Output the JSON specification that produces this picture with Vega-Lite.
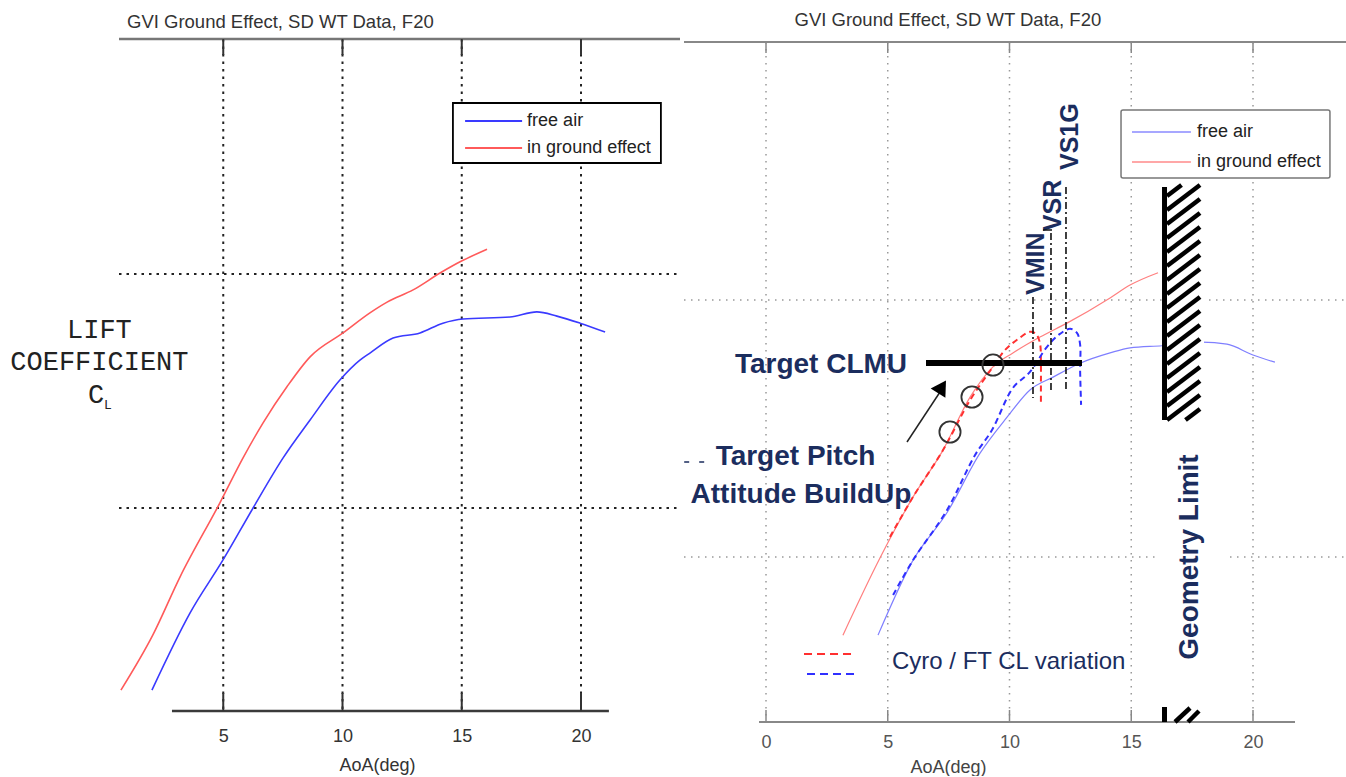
{
  "$schema": "https://vega.github.io/schema/vega-lite/v6.json",
  "padding": 0,
  "background": "white",
  "spacing": 4,
  "bounds": "flush",
  "resolve": {"scale": {"color": "independent"}},
  "config": {"view": {"stroke": null}, "font": "Liberation Sans"},
  "datasets": {
    "left_curves": [
      {"series": "in ground effect", "aoa": 0.71, "cl": 0.611},
      {"series": "in ground effect", "aoa": 2.05, "cl": 0.729},
      {"series": "in ground effect", "aoa": 3.19, "cl": 0.853},
      {"series": "in ground effect", "aoa": 4.86, "cl": 1.011},
      {"series": "in ground effect", "aoa": 5.83, "cl": 1.107},
      {"series": "in ground effect", "aoa": 6.67, "cl": 1.182},
      {"series": "in ground effect", "aoa": 7.67, "cl": 1.259},
      {"series": "in ground effect", "aoa": 8.64, "cl": 1.323},
      {"series": "in ground effect", "aoa": 10.02, "cl": 1.374},
      {"series": "in ground effect", "aoa": 11.15, "cl": 1.417},
      {"series": "in ground effect", "aoa": 11.87, "cl": 1.44},
      {"series": "in ground effect", "aoa": 12.96, "cl": 1.466},
      {"series": "in ground effect", "aoa": 14.09, "cl": 1.502},
      {"series": "in ground effect", "aoa": 14.93, "cl": 1.526},
      {"series": "in ground effect", "aoa": 16.06, "cl": 1.553},
      {"series": "free air", "aoa": 2.01, "cl": 0.611},
      {"series": "free air", "aoa": 3.61, "cl": 0.776},
      {"series": "free air", "aoa": 4.99, "cl": 0.889},
      {"series": "free air", "aoa": 6.25, "cl": 1.0},
      {"series": "free air", "aoa": 7.51, "cl": 1.107},
      {"series": "free air", "aoa": 8.64, "cl": 1.188},
      {"series": "free air", "aoa": 9.9, "cl": 1.274},
      {"series": "free air", "aoa": 10.73, "cl": 1.316},
      {"series": "free air", "aoa": 11.15, "cl": 1.331},
      {"series": "free air", "aoa": 12.12, "cl": 1.363},
      {"series": "free air", "aoa": 13.25, "cl": 1.374},
      {"series": "free air", "aoa": 14.21, "cl": 1.395},
      {"series": "free air", "aoa": 15.05, "cl": 1.404},
      {"series": "free air", "aoa": 17.02, "cl": 1.408},
      {"series": "free air", "aoa": 18.15, "cl": 1.419},
      {"series": "free air", "aoa": 18.99, "cl": 1.41},
      {"series": "free air", "aoa": 19.96, "cl": 1.395},
      {"series": "free air", "aoa": 21.01, "cl": 1.376}
    ],
    "right_curves": [
      {"series": "in ground effect", "aoa": 3.16, "cl": 0.848},
      {"series": "in ground effect", "aoa": 4.68, "cl": 0.998},
      {"series": "in ground effect", "aoa": 6.04, "cl": 1.117},
      {"series": "in ground effect", "aoa": 7.27, "cl": 1.208},
      {"series": "in ground effect", "aoa": 8.38, "cl": 1.311},
      {"series": "in ground effect", "aoa": 9.32, "cl": 1.37},
      {"series": "in ground effect", "aoa": 10.14, "cl": 1.397},
      {"series": "in ground effect", "aoa": 11.25, "cl": 1.428},
      {"series": "in ground effect", "aoa": 12.36, "cl": 1.455},
      {"series": "in ground effect", "aoa": 14.13, "cl": 1.504},
      {"series": "in ground effect", "aoa": 14.95, "cl": 1.529},
      {"series": "in ground effect", "aoa": 16.1, "cl": 1.553},
      {"series": "free air", "aoa": 4.6, "cl": 0.848},
      {"series": "free air", "aoa": 6.04, "cl": 0.994},
      {"series": "free air", "aoa": 7.43, "cl": 1.086},
      {"series": "free air", "aoa": 8.79, "cl": 1.202},
      {"series": "free air", "aoa": 9.9, "cl": 1.272},
      {"series": "free air", "aoa": 10.84, "cl": 1.325},
      {"series": "free air", "aoa": 11.79, "cl": 1.35},
      {"series": "free air", "aoa": 12.9, "cl": 1.377},
      {"series": "free air", "aoa": 14.13, "cl": 1.397},
      {"series": "free air", "aoa": 14.95, "cl": 1.407},
      {"series": "free air", "aoa": 16.26, "cl": 1.411},
      {"series": "free air", "aoa": 17.91, "cl": 1.418},
      {"series": "free air", "aoa": 18.93, "cl": 1.414},
      {"series": "free air", "aoa": 20.0, "cl": 1.393},
      {"series": "free air", "aoa": 20.9, "cl": 1.379}
    ],
    "right_variation": [
      {"series": "in ground effect", "i": 1, "aoa": 5.09, "cl": 1.039},
      {"series": "in ground effect", "i": 2, "aoa": 6.04, "cl": 1.117},
      {"series": "in ground effect", "i": 3, "aoa": 7.27, "cl": 1.208},
      {"series": "in ground effect", "i": 4, "aoa": 8.38, "cl": 1.305},
      {"series": "in ground effect", "i": 5, "aoa": 9.32, "cl": 1.37},
      {"series": "in ground effect", "i": 6, "aoa": 9.82, "cl": 1.403},
      {"series": "in ground effect", "i": 7, "aoa": 10.35, "cl": 1.424},
      {"series": "in ground effect", "i": 8, "aoa": 10.84, "cl": 1.438},
      {"series": "in ground effect", "i": 9, "aoa": 11.09, "cl": 1.434},
      {"series": "in ground effect", "i": 10, "aoa": 11.25, "cl": 1.416},
      {"series": "in ground effect", "i": 11, "aoa": 11.29, "cl": 1.374},
      {"series": "in ground effect", "i": 12, "aoa": 11.29, "cl": 1.335},
      {"series": "in ground effect", "i": 13, "aoa": 11.29, "cl": 1.296},
      {"series": "free air", "i": 1, "aoa": 5.22, "cl": 0.926},
      {"series": "free air", "i": 2, "aoa": 6.04, "cl": 0.994},
      {"series": "free air", "i": 3, "aoa": 7.43, "cl": 1.091},
      {"series": "free air", "i": 4, "aoa": 8.58, "cl": 1.198},
      {"series": "free air", "i": 5, "aoa": 9.28, "cl": 1.247},
      {"series": "free air", "i": 6, "aoa": 10.14, "cl": 1.329},
      {"series": "free air", "i": 7, "aoa": 10.84, "cl": 1.36},
      {"series": "free air", "i": 8, "aoa": 11.54, "cl": 1.409},
      {"series": "free air", "i": 9, "aoa": 12.07, "cl": 1.434},
      {"series": "free air", "i": 10, "aoa": 12.49, "cl": 1.444},
      {"series": "free air", "i": 11, "aoa": 12.77, "cl": 1.436},
      {"series": "free air", "i": 12, "aoa": 12.9, "cl": 1.413},
      {"series": "free air", "i": 13, "aoa": 12.9, "cl": 1.364},
      {"series": "free air", "i": 14, "aoa": 12.94, "cl": 1.296}
    ],
    "hatch": [
      {"aoa": 17.228, "cl": 1.2665, "aoa2": 17.823, "cl2": 1.2879},
      {"aoa": 16.468, "cl": 1.2665, "aoa2": 17.823, "cl2": 1.3151},
      {"aoa": 16.468, "cl": 1.2938, "aoa2": 17.823, "cl2": 1.3424},
      {"aoa": 16.468, "cl": 1.321, "aoa2": 17.823, "cl2": 1.3696},
      {"aoa": 16.468, "cl": 1.3482, "aoa2": 17.823, "cl2": 1.3968},
      {"aoa": 16.468, "cl": 1.3755, "aoa2": 17.823, "cl2": 1.4241},
      {"aoa": 16.468, "cl": 1.4027, "aoa2": 17.823, "cl2": 1.4513},
      {"aoa": 16.468, "cl": 1.43, "aoa2": 17.823, "cl2": 1.4786},
      {"aoa": 16.468, "cl": 1.4572, "aoa2": 17.823, "cl2": 1.5058},
      {"aoa": 16.468, "cl": 1.4844, "aoa2": 17.823, "cl2": 1.533},
      {"aoa": 16.468, "cl": 1.5117, "aoa2": 17.823, "cl2": 1.5603},
      {"aoa": 16.468, "cl": 1.5389, "aoa2": 17.823, "cl2": 1.5875},
      {"aoa": 16.468, "cl": 1.5661, "aoa2": 17.823, "cl2": 1.6147},
      {"aoa": 16.468, "cl": 1.5934, "aoa2": 17.823, "cl2": 1.642},
      {"aoa": 16.468, "cl": 1.6206, "aoa2": 17.823, "cl2": 1.6692},
      {"aoa": 16.468, "cl": 1.6479, "aoa2": 17.823, "cl2": 1.6965},
      {"aoa": 16.468, "cl": 1.6751, "aoa2": 17.823, "cl2": 1.7237},
      {"aoa": 16.468, "cl": 1.7023, "aoa2": 17.064, "cl2": 1.7237},
      {"aoa": 16.797, "cl": 0.679, "aoa2": 17.413, "cl2": 0.7062},
      {"aoa": 17.331, "cl": 0.679, "aoa2": 17.782, "cl2": 0.7004}
    ],
    "targets": [
      {"aoa": 9.322, "cl": 1.3735},
      {"aoa": 8.46, "cl": 1.3113},
      {"aoa": 7.556, "cl": 1.2432}
    ],
    "vspeeds": [
      {"speed": "VMIN", "aoa": 10.965, "cl": 1.5058, "cl2": 1.3093},
      {"speed": "VSR", "aoa": 11.704, "cl": 1.6304, "cl2": 1.321},
      {"speed": "VS1G", "aoa": 12.32, "cl": 1.7198, "cl2": 1.321}
    ],
    "vspeed_labels": [
      {"speed": "VMIN", "aoa": 11.088, "cl": 1.5097},
      {"speed": "VSR", "aoa": 11.786, "cl": 1.634},
      {"speed": "VS1G", "aoa": 12.485, "cl": 1.7529}
    ]
  },
  "hconcat": [
    {
      "width": 680,
      "height": 711,
      "encoding": {
        "x": {"field": "aoa", "type": "quantitative", "scale": {"domain": [-4.3606, 24.1509], "nice": false, "zero": false},
          "axis": {"values": [5, 10, 15, 20], "domain": false, "ticks": false, "grid": false, "labelFontSize": 18, "labelColor": "#333", "labelPadding": 16, "labelFlush": false, "title": "AoA(deg)", "titleFontSize": 18, "titleFontWeight": "normal", "titleColor": "#333", "titleX": 377, "titleY": 54, "titleBaseline": "middle", "titleAlign": "center"}},
        "y": {"field": "cl", "type": "quantitative", "scale": {"domain": [0.56624, 2.08547], "nice": false, "zero": false}, "axis": null}
      },
      "layer": [
        {"data": {"values": [{"aoa": 5, "cl": 2.0021, "cl2": 0.5662}, {"aoa": 10, "cl": 2.0021, "cl2": 0.5662}, {"aoa": 15, "cl": 2.0021, "cl2": 0.5662}, {"aoa": 20, "cl": 2.0021, "cl2": 0.5662}]},
          "mark": {"type": "rule", "color": "#222", "strokeWidth": 2, "strokeDash": [2.5, 5]},
          "encoding": {"y2": {"field": "cl2"}}},
        {"data": {"values": [{"aoa": 0.629, "aoa2": 24.1509, "cl": 1.0}, {"aoa": 0.629, "aoa2": 24.1509, "cl": 1.5}]},
          "mark": {"type": "rule", "color": "#222", "strokeWidth": 2, "strokeDash": [2.5, 5]},
          "encoding": {"x2": {"field": "aoa2"}}},
        {"data": {"values": [{"aoa": 0.629, "aoa2": 24.1509, "cl": 2.0021}]},
          "mark": {"type": "rule", "color": "#777", "strokeWidth": 2.5},
          "encoding": {"x2": {"field": "aoa2"}}},
        {"data": {"values": [{"aoa": 2.85, "aoa2": 21.17, "cl": 0.5662}]},
          "mark": {"type": "rule", "color": "#3a3a3a", "strokeWidth": 2.5},
          "encoding": {"x2": {"field": "aoa2"}}},
        {"data": {"values": [
            {"aoa": 5, "cl": 2.0021, "cl2": 1.9679}, {"aoa": 10, "cl": 2.0021, "cl2": 1.9679}, {"aoa": 15, "cl": 2.0021, "cl2": 1.9679}, {"aoa": 20, "cl": 2.0021, "cl2": 1.9679},
            {"aoa": 5, "cl": 0.5662, "cl2": 0.6047}, {"aoa": 10, "cl": 0.5662, "cl2": 0.6047}, {"aoa": 15, "cl": 0.5662, "cl2": 0.6047}, {"aoa": 20, "cl": 0.5662, "cl2": 0.6047}]},
          "mark": {"type": "rule", "color": "#333", "strokeWidth": 2},
          "encoding": {"y2": {"field": "cl2"}}},
        {"data": {"name": "left_curves"},
          "mark": {"type": "line", "strokeWidth": 1.6, "interpolate": "monotone"},
          "encoding": {"color": {"field": "series", "type": "nominal", "scale": {"domain": ["free air", "in ground effect"], "range": ["#3a3aff", "#ff5a5a"]}, "legend": null}}},
        {"data": {"values": [{"aoa": 14.63, "aoa2": 23.35, "cl": 1.8654, "cl2": 1.7372}]},
          "mark": {"type": "rect", "fill": "white", "stroke": "black", "strokeWidth": 1.8},
          "encoding": {"x2": {"field": "aoa2"}, "y2": {"field": "cl2"}}},
        {"data": {"values": [{"series": "free air", "aoa": 15.14, "aoa2": 17.53, "cl": 1.8269}, {"series": "in ground effect", "aoa": 15.14, "aoa2": 17.53, "cl": 1.7692}]},
          "mark": {"type": "rule", "strokeWidth": 2},
          "encoding": {"x2": {"field": "aoa2"}, "color": {"field": "series", "type": "nominal", "legend": null}}},
        {"data": {"values": [{"t": "free air", "aoa": 17.74, "cl": 1.8269}, {"t": "in ground effect", "aoa": 17.74, "cl": 1.7692}]},
          "mark": {"type": "text", "fontSize": 18, "color": "#222", "align": "left", "baseline": "middle"},
          "encoding": {"text": {"field": "t"}}},
        {"data": {"values": [{"t": "GVI Ground Effect, SD WT Data, F20", "aoa": 0.964, "cl": 2.0385}]},
          "mark": {"type": "text", "fontSize": 18.5, "color": "#333", "align": "left", "baseline": "middle"},
          "encoding": {"text": {"field": "t"}}},
        {"data": {"values": [{"t": "LIFT", "aoa": -0.193, "cl": 1.3803}, {"t": "COEFFICIENT", "aoa": -0.193, "cl": 1.3109}, {"t": "C", "aoa": -0.335, "cl": 1.2415}]},
          "mark": {"type": "text", "font": "Liberation Mono", "fontSize": 27, "color": "#222", "align": "center", "baseline": "middle"},
          "encoding": {"text": {"field": "t"}}},
        {"data": {"values": [{"t": "L", "aoa": 0.168, "cl": 1.2191}]},
          "mark": {"type": "text", "font": "Liberation Mono", "fontSize": 13, "color": "#222", "align": "center", "baseline": "middle"},
          "encoding": {"text": {"field": "t"}}}
      ]
    },
    {
      "width": 662,
      "height": 722,
      "resolve": {"scale": {"color": "independent"}},
      "encoding": {
        "x": {"field": "aoa", "type": "quantitative", "scale": {"domain": [-3.3676, 23.8193], "nice": false, "zero": false},
          "axis": {"values": [0, 5, 10, 15, 20], "domain": false, "ticks": false, "grid": false, "labelFontSize": 18, "labelColor": "#555", "labelPadding": 11, "labelFlush": false, "title": "AoA(deg)", "titleFontSize": 18, "titleFontWeight": "normal", "titleColor": "#444", "titleX": 264, "titleY": 45, "titleBaseline": "middle", "titleAlign": "center"}},
        "y": {"field": "cl", "type": "quantitative", "scale": {"domain": [0.67899, 2.08366], "nice": false, "zero": false}, "axis": null}
      },
      "layer": [
        {"data": {"values": [{"aoa": 0, "cl": 2.0019, "cl2": 0.679}, {"aoa": 5, "cl": 2.0019, "cl2": 0.679}, {"aoa": 10, "cl": 2.0019, "cl2": 0.679}, {"aoa": 15, "cl": 2.0019, "cl2": 0.679}, {"aoa": 20, "cl": 2.0019, "cl2": 0.679}]},
          "mark": {"type": "rule", "color": "#999", "strokeWidth": 1.5, "strokeDash": [1.5, 5.5]},
          "encoding": {"y2": {"field": "cl2"}}},
        {"data": {"values": [{"aoa": -3.3676, "aoa2": 23.8193, "cl": 1.0}, {"aoa": -3.3676, "aoa2": 23.8193, "cl": 1.5}]},
          "mark": {"type": "rule", "color": "#999", "strokeWidth": 1.5, "strokeDash": [1.5, 5.5]},
          "encoding": {"x2": {"field": "aoa2"}}},
        {"data": {"values": [{"aoa": -3.3676, "aoa2": 23.8193, "cl": 2.0019}, {"aoa": -0.287, "aoa2": 21.725, "cl": 0.679}]},
          "mark": {"type": "rule", "color": "#888", "strokeWidth": 2.2},
          "encoding": {"x2": {"field": "aoa2"}}},
        {"data": {"values": [
            {"aoa": 0, "cl": 2.0019, "cl2": 1.9805}, {"aoa": 5, "cl": 2.0019, "cl2": 1.9805}, {"aoa": 10, "cl": 2.0019, "cl2": 1.9805}, {"aoa": 15, "cl": 2.0019, "cl2": 1.9805}, {"aoa": 20, "cl": 2.0019, "cl2": 1.9805},
            {"aoa": 0, "cl": 0.679, "cl2": 0.7023}, {"aoa": 5, "cl": 0.679, "cl2": 0.7023}, {"aoa": 10, "cl": 0.679, "cl2": 0.7023}, {"aoa": 15, "cl": 0.679, "cl2": 0.7023}, {"aoa": 20, "cl": 0.679, "cl2": 0.7023}]},
          "mark": {"type": "rule", "color": "#888", "strokeWidth": 1.5},
          "encoding": {"y2": {"field": "cl2"}}},
        {"data": {"values": [{"aoa": 16.099, "aoa2": 18.85, "cl": 1.2179, "cl2": 0.7218}]},
          "mark": {"type": "rect", "fill": "white"},
          "encoding": {"x2": {"field": "aoa2"}, "y2": {"field": "cl2"}}},
        {"data": {"name": "right_curves"},
          "mark": {"type": "line", "strokeWidth": 1.2, "interpolate": "monotone"},
          "encoding": {"color": {"field": "series", "type": "nominal", "scale": {"domain": ["free air", "in ground effect"], "range": ["#7f7fff", "#ff7f7f"]}, "legend": null}}},
        {"data": {"values": [{"aoa": 16.427, "aoa2": 17.988, "cl": 1.7237, "cl2": 1.2665}]},
          "mark": {"type": "rect", "fill": "white"},
          "encoding": {"x2": {"field": "aoa2"}, "y2": {"field": "cl2"}}},
        {"data": {"name": "right_variation"},
          "mark": {"type": "line", "strokeWidth": 2, "strokeDash": [6, 4], "interpolate": "catmull-rom"},
          "encoding": {"order": {"field": "i", "type": "quantitative"}, "color": {"field": "series", "type": "nominal", "scale": {"domain": ["free air", "in ground effect"], "range": ["#3030ff", "#ff3030"]}, "legend": null}}},
        {"data": {"name": "vspeeds"},
          "mark": {"type": "rule", "color": "#111", "strokeWidth": 1.6, "strokeDash": [7, 3, 2, 3]},
          "encoding": {"y2": {"field": "cl2"}}},
        {"data": {"name": "vspeed_labels"},
          "mark": {"type": "text", "fontSize": 25, "fontWeight": "bold", "color": "#1b2d5e", "angle": 270, "align": "left", "baseline": "middle"},
          "encoding": {"text": {"field": "speed"}}},
        {"data": {"values": [{"aoa": 11.376, "aoa2": 11.745, "cl": 1.6362}]},
          "mark": {"type": "rule", "color": "#111", "strokeWidth": 1.5},
          "encoding": {"x2": {"field": "aoa2"}}},
        {"data": {"name": "hatch"},
          "mark": {"type": "rule", "color": "black", "strokeWidth": 4.5},
          "encoding": {"x2": {"field": "aoa2"}, "y2": {"field": "cl2"}}},
        {"data": {"values": [{"aoa": 16.366, "cl": 1.7198, "cl2": 1.2665}, {"aoa": 16.366, "cl": 0.7082, "cl2": 0.679}]},
          "mark": {"type": "rule", "color": "black", "strokeWidth": 5},
          "encoding": {"y2": {"field": "cl2"}}},
        {"data": {"values": [{"aoa": 6.571, "aoa2": 12.977, "cl": 1.3774}]},
          "mark": {"type": "rule", "color": "black", "strokeWidth": 6},
          "encoding": {"x2": {"field": "aoa2"}}},
        {"data": {"name": "targets"},
          "mark": {"type": "point", "shape": "circle", "filled": false, "size": 450, "stroke": "#333", "strokeWidth": 1.8, "opacity": 1}},
        {"data": {"values": [{"aoa": 5.791, "cl": 1.2237, "aoa2": 7.146, "cl2": 1.321}]},
          "mark": {"type": "rule", "color": "#222", "strokeWidth": 1.5},
          "encoding": {"x2": {"field": "aoa2"}, "y2": {"field": "cl2"}}},
        {"data": {"values": [{"aoa": 7.228, "cl": 1.3311}]},
          "mark": {"type": "point", "shape": "triangle-up", "filled": true, "color": "black", "size": 300, "angle": 32, "opacity": 1}},
        {"data": {"values": [{"t": "Target CLMU", "aoa": 2.259, "cl": 1.3735}, {"t": "Target Pitch", "aoa": 1.211, "cl": 1.1946}, {"t": "Attitude BuildUp", "aoa": 1.437, "cl": 1.1206}]},
          "mark": {"type": "text", "fontSize": 28, "fontWeight": "bold", "color": "#1b2d5e", "align": "center", "baseline": "middle"},
          "encoding": {"text": {"field": "t"}}},
        {"data": {"values": [{"aoa": -3.36, "aoa2": -2.38, "cl": 1.1848}]},
          "mark": {"type": "rule", "color": "#1b2d5e", "strokeWidth": 1.5, "strokeDash": [5, 10]},
          "encoding": {"x2": {"field": "aoa2"}}},
        {"data": {"values": [{"series": "in ground effect", "aoa": 1.561, "aoa2": 3.573, "cl": 0.8113}, {"series": "free air", "aoa": 1.684, "aoa2": 3.696, "cl": 0.7724}]},
          "mark": {"type": "rule", "strokeWidth": 2, "strokeDash": [8, 5]},
          "encoding": {"x2": {"field": "aoa2"}, "color": {"field": "series", "type": "nominal", "scale": {"domain": ["free air", "in ground effect"], "range": ["#3030ff", "#ff3030"]}, "legend": null}}},
        {"data": {"values": [{"t": "Cyro / FT CL variation", "aoa": 5.175, "cl": 0.7957}]},
          "mark": {"type": "text", "fontSize": 24, "color": "#1b2d5e", "align": "left", "baseline": "middle"},
          "encoding": {"text": {"field": "t"}}},
        {"data": {"values": [{"t": "Geometry Limit", "aoa": 17.413, "cl": 1.0}]},
          "mark": {"type": "text", "fontSize": 28, "fontWeight": "bold", "color": "#1b2d5e", "angle": 270, "align": "center", "baseline": "middle"},
          "encoding": {"text": {"field": "t"}}},
        {"data": {"values": [{"aoa": 14.58, "aoa2": 23.16, "cl": 1.8696, "cl2": 1.7374}]},
          "mark": {"type": "rect", "fill": "white", "stroke": "#777", "strokeWidth": 1.5, "cornerRadius": 2},
          "encoding": {"x2": {"field": "aoa2"}, "y2": {"field": "cl2"}}},
        {"data": {"values": [{"series": "free air", "aoa": 15.03, "aoa2": 17.45, "cl": 1.8268}, {"series": "in ground effect", "aoa": 15.03, "aoa2": 17.45, "cl": 1.7685}]},
          "mark": {"type": "rule", "strokeWidth": 1.5},
          "encoding": {"x2": {"field": "aoa2"}, "color": {"field": "series", "type": "nominal", "scale": {"domain": ["free air", "in ground effect"], "range": ["#8a8aff", "#ff8a8a"]}, "legend": null}}},
        {"data": {"values": [{"t": "free air", "aoa": 17.7, "cl": 1.8268}, {"t": "in ground effect", "aoa": 17.7, "cl": 1.7685}]},
          "mark": {"type": "text", "fontSize": 18, "color": "#222", "align": "left", "baseline": "middle"},
          "encoding": {"text": {"field": "t"}}},
        {"data": {"values": [{"t": "GVI Ground Effect, SD WT Data, F20", "aoa": 1.17, "cl": 2.0447}]},
          "mark": {"type": "text", "fontSize": 18.5, "color": "#333", "align": "left", "baseline": "middle"},
          "encoding": {"text": {"field": "t"}}}
      ]
    }
  ]
}
